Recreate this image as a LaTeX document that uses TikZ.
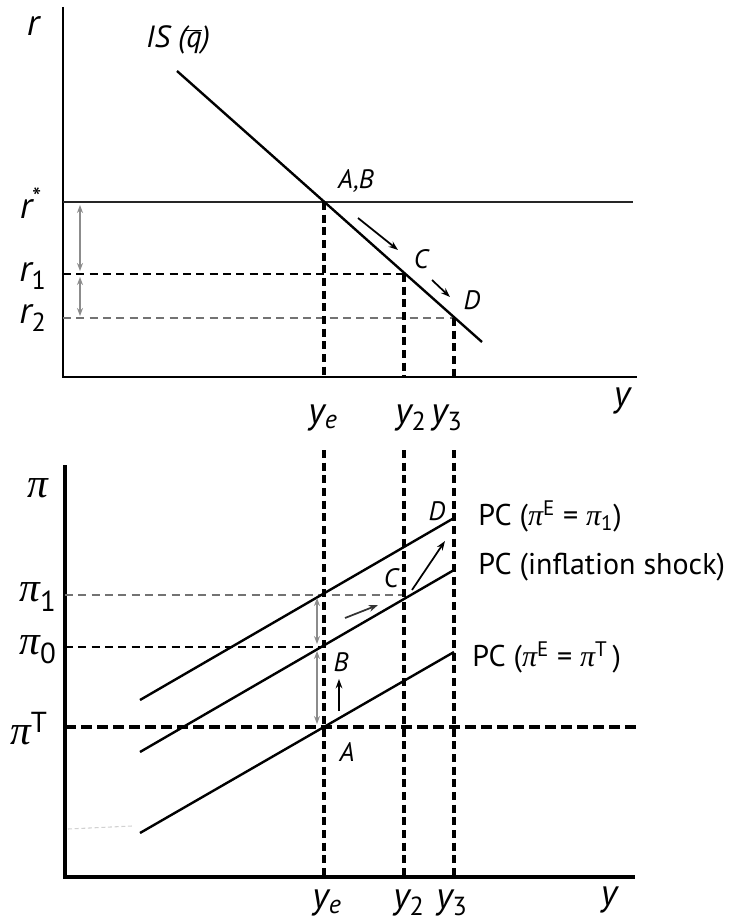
\documentclass[tikz,border=0pt]{standalone}
\usepackage{fontspec}
\setmainfont{PT Sans}
\newfontfamily\pifont{Liberation Serif}
\usetikzlibrary{arrows.meta}
\newcommand{\gpi}{{\pifont\itshape π}}
\begin{document}
\begin{tikzpicture}[x=0.75pt,y=-0.75pt,
  curve/.style={line width=1.8pt,black},
  axis/.style={line width=2.2pt,black},
  vdash/.style={line width=2.8pt,black,dash pattern=on 6pt off 3.5pt},
  hdash/.style={line width=1.7pt,black,dash pattern=on 6pt off 4pt},
  gdash/.style={line width=2pt,black!55,dash pattern=on 6pt off 4pt},
  tdash/.style={line width=3.2pt,black,dash pattern=on 8.5pt off 3.5pt},
  garrow/.style={line width=1.3pt,black!45,{Stealth[length=6pt,width=4.5pt]}-{Stealth[length=6pt,width=4.5pt]}},
  barrow/.style={line width=1.3pt,black,-{Stealth[length=7pt,width=5pt]}},
  axlab/.style={font=\fontsize{28}{28}\selectfont\itshape,inner sep=0pt},
  pilab/.style={font=\fontsize{31}{31}\selectfont,inner sep=0pt},
  ptlab/.style={font=\fontsize{20}{20}\selectfont\itshape,inner sep=0pt},
  pclab/.style={font=\fontsize{22.5}{22.5}\selectfont,inner sep=0pt,anchor=west}]
\useasboundingbox (0,0) rectangle (738,924);
% ---------------- top panel ----------------
\coordinate (tO) at (63,377);
\coordinate (tTop) at (63,7);
\coordinate (tEnd) at (637,377);
\draw[axis] (tTop) -- (tO) -- (tEnd);
\coordinate (rs0) at (63,202); \coordinate (rs1) at (633,202);
\coordinate (r10) at (63,274); \coordinate (r20) at (63,318);
\coordinate (ISa) at (177,71); \coordinate (ISb) at (482,342);
\coordinate (AB) at (324,202); \coordinate (Ct) at (404,274); \coordinate (Dt) at (454,318);
\coordinate (yeb) at (324,377); \coordinate (y2b) at (404,377); \coordinate (y3b) at (454,377);
\draw[line width=1.8pt,black!85] (rs0) -- (rs1);
\draw[hdash] (r10) -- (Ct);
\draw[gdash] (r20) -- (Dt);
\draw[vdash] (AB) -- (yeb);
\draw[vdash] (Ct) -- (y2b);
\draw[vdash] (Dt) -- (y3b);
\draw[curve] (ISa) -- (ISb);
\coordinate (ga1) at (80,205); \coordinate (ga2) at (80,271);
\coordinate (ga3) at (80,277); \coordinate (ga4) at (80,316);
\draw[garrow] (ga1) -- (ga2);
\draw[garrow] (ga3) -- (ga4);
\coordinate (m1a) at (358,218); \coordinate (m1b) at (398,250);
\coordinate (m2a) at (432,280); \coordinate (m2b) at (450,297);
\draw[barrow] (m1a) -- (m1b);
\draw[barrow] (m2a) -- (m2b);
\node[axlab] (lr) at (33,26) {r};
\node[font=\fontsize{23}{23}\selectfont\itshape,inner sep=0pt] (lIS) at (178,40) {IS (\(\overline{\mbox{\itshape q}}\))};
\node[axlab] (lrs) at (31,203) {r\textsuperscript{\upshape *}};
\node[axlab] (lr1) at (33,276) {r\textsubscript{\upshape 1}};
\node[axlab] (lr2) at (33,318) {r\textsubscript{\upshape 2}};
\node[ptlab] (lAB) at (356,181) {A,B};
\node[ptlab] (lCt) at (421,259) {C};
\node[ptlab] (lDt) at (472,300) {D};
\node[axlab] (lye1) at (323,418) {y\textsubscript{e}};
\node[axlab] (ly21) at (411,418) {y\textsubscript{\upshape 2}};
\node[axlab] (ly31) at (447,418) {y\textsubscript{\upshape 3}};
\node[axlab] (ly1) at (622,401) {y};
% ---------------- bottom panel ----------------
\coordinate (bO) at (65,877);
\coordinate (bTop) at (65,465);
\coordinate (bEnd) at (635,877);
\draw[line width=2.8pt,black] (bTop) -- (bO) -- (bEnd);
\coordinate (yet) at (324,450); \coordinate (y2t) at (404,450); \coordinate (y3t) at (454,450);
\coordinate (yeB) at (324,877); \coordinate (y2B) at (404,877); \coordinate (y3B) at (454,877);
\coordinate (pT0) at (65,727); \coordinate (pT1) at (638,727);
\coordinate (p10) at (65,595); \coordinate (pC) at (404,595);
\coordinate (p00) at (65,647); \coordinate (pB) at (324,647);
\draw[gdash] (p10) -- (pC);
\draw[hdash] (p00) -- (pB);
\draw[tdash] (pT0) -- (pT1);
\draw[vdash] (yet) -- (yeB);
\draw[vdash] (y2t) -- (y2B);
\draw[vdash] (y3t) -- (y3B);
\coordinate (PCa0) at (140,833); \coordinate (PCa1) at (454,652);
\coordinate (PCb0) at (140,752); \coordinate (PCb1) at (454,570);
\coordinate (PCc0) at (140,700); \coordinate (PCc1) at (454,518);
\draw[curve] (PCa0) -- (PCa1);
\draw[curve] (PCb0) -- (PCb1);
\draw[curve] (PCc0) -- (PCc1);
\coordinate (fg0) at (68,829); \coordinate (fg1) at (132,826);
\draw[line width=0.8pt,black!18,dash pattern=on 3pt off 2pt] (fg0) -- (fg1);
\coordinate (gb1) at (317,598); \coordinate (gb2) at (317,644);
\coordinate (gb3) at (317,651); \coordinate (gb4) at (317,724);
\draw[garrow] (gb1) -- (gb2);
\draw[garrow] (gb3) -- (gb4);
\coordinate (ua) at (339,711); \coordinate (ub) at (339,679);
\coordinate (sa) at (345,618); \coordinate (sb) at (378,605);
\coordinate (ca) at (412,590); \coordinate (cb) at (445,541);
\draw[barrow] (ua) -- (ub);
\draw[line width=1.3pt,black!80,-{Stealth[length=7pt,width=5pt]}] (sa) -- (sb);
\draw[barrow] (ca) -- (cb);
\node[pilab] (lpi) at (38,488) {\gpi};
\node[pilab] (lpi1) at (38,597) {\gpi\textsubscript{1}};
\node[pilab] (lpi0) at (38,650) {\gpi\textsubscript{0}};
\node[pilab] (lpiT) at (29,729) {\gpi\textsuperscript{T}};
\node[ptlab] (lB) at (341,662) {B};
\node[ptlab] (lA) at (347,752) {A};
\node[ptlab] (lCb) at (391,578) {C};
\node[ptlab] (lDb) at (437,511) {D};
\node[pclab] (lPC1) at (478,516) {PC (\gpi\textsuperscript{E} = \gpi\textsubscript{1})};
\node[pclab] (lPC2) at (478,567) {PC (inflation shock)};
\node[pclab] (lPC3) at (472,657) {PC (\gpi\textsuperscript{E} = \gpi\textsuperscript{T}\,)};
\node[axlab] (lye2) at (327,903) {y\textsubscript{e}};
\node[axlab] (ly22) at (409,903) {y\textsubscript{\upshape 2}};
\node[axlab] (ly32) at (452,903) {y\textsubscript{\upshape 3}};
\node[axlab] (ly2) at (609,900) {y};
\end{tikzpicture}
\end{document}
